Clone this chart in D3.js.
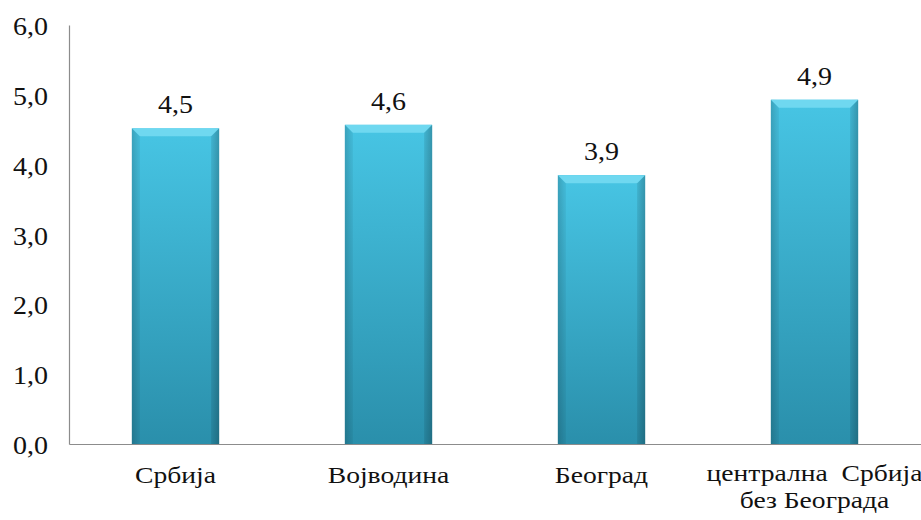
<!DOCTYPE html>
<html>
<head>
<meta charset="utf-8">
<script src="https://cdn.jsdelivr.net/npm/d3@7"></script>
<style>
  body { margin: 0; background: #fff; }
</style>
</head>
<body>
<div id="chart"></div>
<script>
// data
const regions = ["Србија", "Војводина", "Београд", "централна  Србија|без Београда"];
const values = [4.52, 4.57, 3.85, 4.93];
const yTicks = [0, 1, 2, 3, 4, 5, 6];

const width = 921, height = 520;
const margin = {top: 25, right: 0, bottom: 76, left: 69};
const FONT = '"Liberation Serif", "Times New Roman", serif';
const stretch = 1.12;    // the reference numbers are a bit wide
const catStretch = 1.2;  // and the category labels even more so

const svg = d3.select("#chart").append("svg")
    .attr("width", width)
    .attr("height", height);

const x = d3.scaleBand()
    .domain(regions)
    .range([margin.left, width - margin.right])
    .paddingInner(0.59)
    .paddingOuter(0.295);

const y = d3.scaleLinear()
    .domain([0, 6])
    .range([height - margin.bottom, margin.top]);

const fmt = d => d3.format(".1f")(d).replace(".", ",");

// gradients
const defs = svg.append("defs");
const body = defs.append("linearGradient").attr("id", "barBody")
    .attr("x1", 0).attr("y1", 0).attr("x2", 0).attr("y2", 1);
body.append("stop").attr("offset", "0%").attr("stop-color", "#47c5e4");
body.append("stop").attr("offset", "100%").attr("stop-color", "#2a8fab");

const side = defs.append("linearGradient").attr("id", "barSide")
    .attr("x1", 0).attr("y1", 0).attr("x2", 1).attr("y2", 0);
side.append("stop").attr("offset", "0%").attr("stop-color", "#000").attr("stop-opacity", 0.12);
side.append("stop").attr("offset", "8%").attr("stop-color", "#000").attr("stop-opacity", 0);
side.append("stop").attr("offset", "92%").attr("stop-color", "#000").attr("stop-opacity", 0);
side.append("stop").attr("offset", "100%").attr("stop-color", "#000").attr("stop-opacity", 0.15);

// y axis
const yAxis = svg.append("g")
    .attr("transform", `translate(${margin.left},0)`)
    .call(d3.axisLeft(y).tickValues(yTicks).tickSize(0).tickPadding(0).tickFormat(fmt));
yAxis.attr("font-family", FONT);
yAxis.select(".domain").attr("stroke", "#8c8c8c").attr("stroke-width", 1.2);
yAxis.selectAll("text")
    .style("font-family", FONT)
    .attr("font-size", "25px")
    .attr("fill", "#111")
    .attr("x", -21 / stretch)
    .attr("dy", "0.38em")
    .attr("transform", `scale(${stretch},1)`);

// bars
const bars = svg.append("g").selectAll("g.bar")
    .data(regions.map((r, i) => ({region: r, value: values[i]})))
    .join("g").attr("class", "bar");

bars.append("rect")
    .attr("x", d => x(d.region))
    .attr("y", d => y(d.value))
    .attr("width", x.bandwidth())
    .attr("height", d => y(0) - y(d.value))
    .attr("fill", "url(#barBody)");

bars.append("rect")
    .attr("x", d => x(d.region))
    .attr("y", d => y(d.value))
    .attr("width", x.bandwidth())
    .attr("height", d => y(0) - y(d.value))
    .attr("fill", "url(#barSide)");

// bevel on top
const bevel = 8;
bars.append("path")
    .attr("d", d => {
        const x0 = x(d.region), x1 = x0 + x.bandwidth(), t = y(d.value);
        return `M${x0},${t}L${x1},${t}L${x1 - bevel},${t + bevel}L${x0 + bevel},${t + bevel}Z`;
    })
    .attr("fill", "#6fd8f0");
bars.append("path")
    .attr("d", d => {
        const x0 = x(d.region), t = y(d.value);
        return `M${x0},${t}L${x0 + bevel},${t + bevel}L${x0 + bevel},${y(0)}L${x0},${y(0)}Z`;
    })
    .attr("fill", "#000").attr("opacity", 0.06);
bars.append("path")
    .attr("d", d => {
        const x1 = x(d.region) + x.bandwidth(), t = y(d.value);
        return `M${x1},${t}L${x1 - bevel},${t + bevel}L${x1 - bevel},${y(0)}L${x1},${y(0)}Z`;
    })
    .attr("fill", "#000").attr("opacity", 0.1);

// value labels
bars.append("text")
    .attr("transform", d => `translate(${x(d.region) + x.bandwidth() / 2},${y(d.value) - 15}) scale(${stretch},1)`)
    .attr("text-anchor", "middle")
    .style("font-family", FONT)
    .attr("font-size", "25px")
    .attr("fill", "#111")
    .text(d => fmt(d.value));

// x axis
const xAxis = svg.append("g")
    .attr("transform", `translate(0,${y(0)})`)
    .call(d3.axisBottom(x).tickSize(0).tickSizeOuter(0).tickFormat(""));
xAxis.attr("font-family", FONT);
xAxis.select(".domain").attr("stroke", "#8c8c8c").attr("stroke-width", 1.2);

xAxis.selectAll(".tick").each(function(d) {
    const lines = d.split("|");
    const t = d3.select(this).append("text")
        .attr("text-anchor", "middle")
        .style("font-family", FONT)
        .attr("font-size", "23px")
        .attr("fill", "#111")
        .attr("transform", `scale(${catStretch},1)`)
        .attr("y", lines.length > 1 ? 37 : 39);
    lines.forEach((l, i) => {
        t.append("tspan")
            .attr("x", 0)
            .attr("dy", i ? 27 : 0)
            .style("white-space", "pre")
            .text(l);
    });
});
</script>
</body>
</html>
